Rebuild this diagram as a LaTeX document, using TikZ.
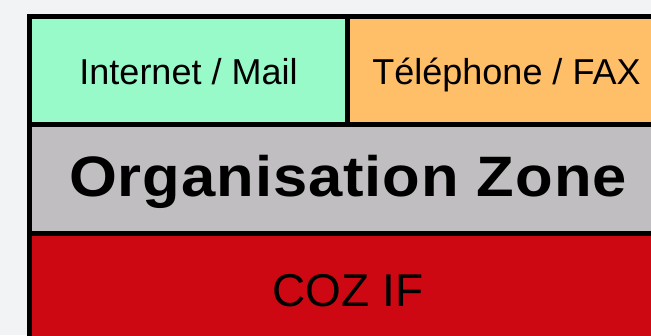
\documentclass[tikz,border=0pt]{standalone}
\usepackage{fontspec}
\setmainfont{Liberation Sans}
\newfontfamily\zonefont[LetterSpace=1.5]{Liberation Sans}
\definecolor{bgpage}{RGB}{242,243,245}
\definecolor{mint}{RGB}{152,250,200}
\definecolor{apricot}{RGB}{255,190,104}
\definecolor{zonegray}{RGB}{192,190,192}
\definecolor{cozred}{RGB}{206,8,18}
\begin{document}
\begin{tikzpicture}[x=1pt,y=1pt,
  cell/.style={draw=black, line width=5pt, rectangle, inner sep=0pt, outer sep=0pt, anchor=south west},
  lbl/.style={anchor=base, inner sep=0pt, text=black}]
\useasboundingbox (0,0) rectangle (651,335);
\clip (0,0) rectangle (651,335);
\fill[bgpage] (0,0) rectangle (651,335);
\node[cell, fill=mint, minimum width=318pt, minimum height=108pt] (inet) at (29.5,210.5) {};
\node[cell, fill=apricot, minimum width=318.5pt, minimum height=108pt] (tel) at (347.5,210.5) {};
\node[cell, fill=zonegray, minimum width=636.5pt, minimum height=109pt] (zone) at (29.5,101.5) {};
\node[cell, fill=cozred, minimum width=636.5pt, minimum height=121.5pt] (coz) at (29.5,-20) {};
\node[lbl] (inettxt) at (188.5,250) {\fontsize{36}{40}\selectfont Internet / Mail};
\node[lbl] (teltxt) at (506.5,250) {\fontsize{36}{40}\selectfont Téléphone / FAX};
\node[lbl, xscale=1.08] (zonetxt) at (348,138) {\zonefont\bfseries\fontsize{57}{60}\selectfont Organisation Zone};
\node[lbl] (coztxt) at (348,28) {\fontsize{46}{50}\selectfont COZ IF};
\end{tikzpicture}
\end{document}
